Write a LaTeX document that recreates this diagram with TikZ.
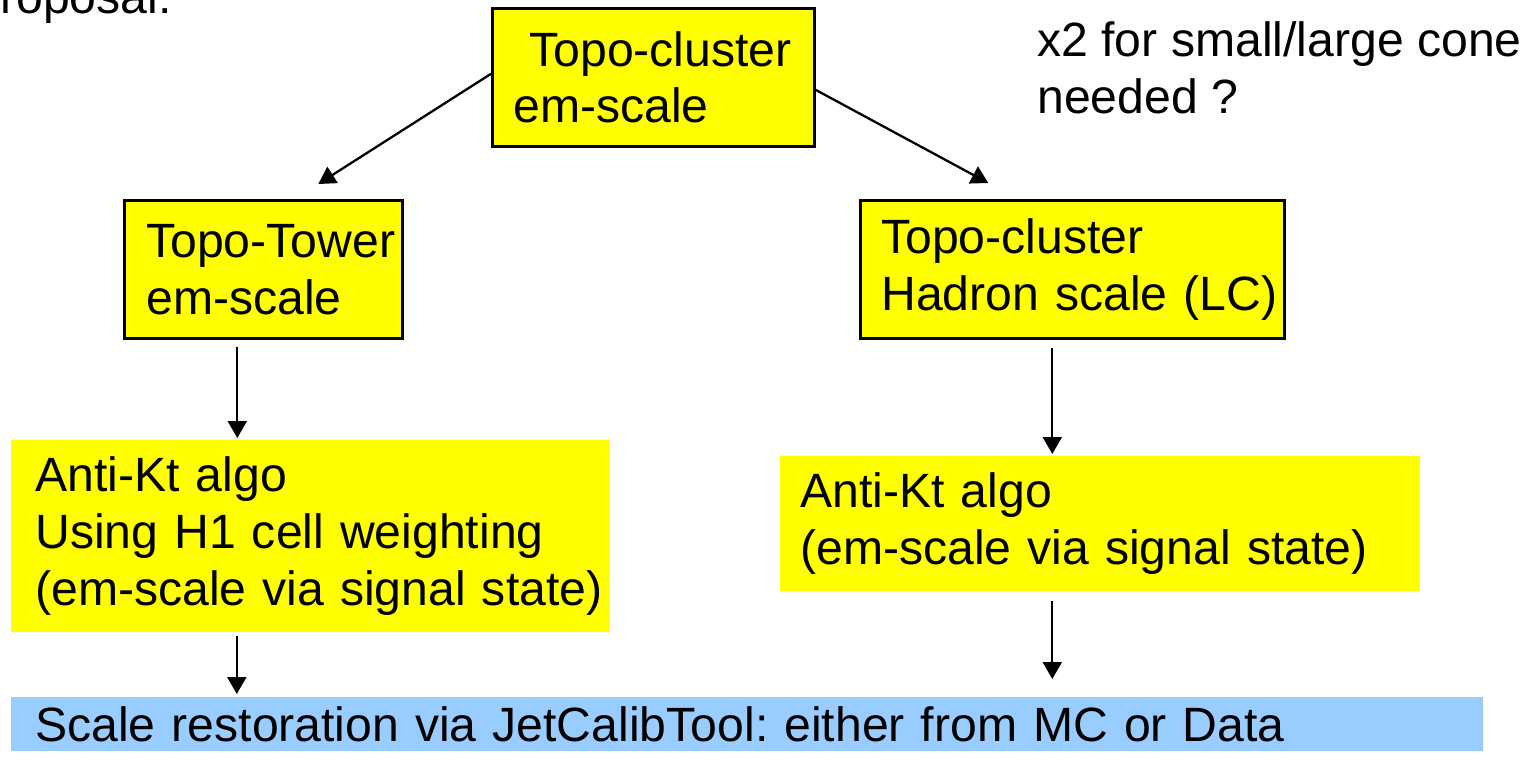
\documentclass[tikz,border=0pt]{standalone}
\usepackage{fontspec}
\setmainfont{Liberation Sans}
\frenchspacing
\usetikzlibrary{arrows.meta}

\definecolor{boxyellow}{HTML}{FFFF00}
\definecolor{boxblue}{HTML}{99CCFF}

\tikzset{
	slide/.style={font=\fontsize{27.4pt}{32.4pt}\selectfont},
	pad/.style={inner xsep=0pt, execute at begin node={\leftskip=#1\relax}},
	ybox/.style={slide, fill=boxyellow, anchor=north west, align=left, inner ysep=0pt},
	framed/.style={draw=black, line width=1.5pt},
	bbox/.style={slide, fill=boxblue, anchor=north west, align=left, inner ysep=0pt},
	arr/.style={line width=1.3pt, -{Triangle[length=0.34cm,width=0.38cm]}}
}

\begin{document}
\begin{tikzpicture}[x=0.02cm, y=-0.02cm]
		\useasboundingbox (0,0) rectangle (1521,769);
		
		% Notes
		\node[slide, anchor=base west, inner sep=0pt] (note) at (0,13) {roposal:};
		\node[slide, anchor=north west, align=left, inner sep=0pt] (cone) at (1037,21) {x2 for small/large cone\\needed ?};
		
		% Boxes
		\node[ybox, framed, pad=0.42cm, text width=6.44cm, minimum height=2.76cm] (top) at (491,7) {~Topo-cluster\\em-scale};
		\node[ybox, framed, pad=0.44cm, text width=5.56cm, minimum height=2.76cm] (tower) at (123,199) {Topo-Tower\\em-scale};
		\node[ybox, framed, pad=0.42cm, text width=8.48cm, minimum height=2.76cm] (hadron) at (859,199) {Topo-cluster\\Hadron scale (LC)};
		\node[ybox, pad=0.48cm, text width=11.98cm, minimum height=3.84cm] (antiL) at (11,440) {Anti-Kt algo\\Using H1 cell weighting\\(em-scale via signal state)};
		\node[ybox, pad=0.4cm, text width=12.8cm, minimum height=2.7cm] (antiR) at (780,456) {Anti-Kt algo\\(em-scale via signal state)};
		\node[bbox, pad=0.48cm, text width=29.44cm, minimum height=1.08cm] (calib) at (11,697) {Scale restoration via JetCalibTool: either from MC or Data};
		
		% Arrows
		\draw[arr] ([yshift=0.07cm]top.west) -- ([xshift=1.1cm, yshift=0.3cm]tower.north);
		\draw[arr] ([yshift=-0.25cm]top.east) -- ([xshift=-1.68cm, yshift=0.32cm]hadron.north);
		\draw[arr, shorten <=0.14cm, shorten >=0.04cm] ([xshift=-0.52cm]tower.south) -- ([xshift=-0.52cm]tower.south |- antiL.north);
		\draw[arr, shorten <=0.06cm, shorten >=0.06cm] ([xshift=-1.48cm]antiL.south) -- ([xshift=-1.48cm]antiL.south |- calib.north);
		\draw[arr, shorten <=0.16cm, shorten >=0.04cm] ([xshift=-0.4cm]hadron.south) -- ([xshift=-0.4cm]hadron.south |- antiR.north);
		\draw[arr, shorten <=0.18cm, shorten >=0.36cm] ([xshift=-0.4cm]hadron.south |- antiR.south) -- ([xshift=-0.4cm]hadron.south |- calib.north);
	\end{tikzpicture}
\end{document}
